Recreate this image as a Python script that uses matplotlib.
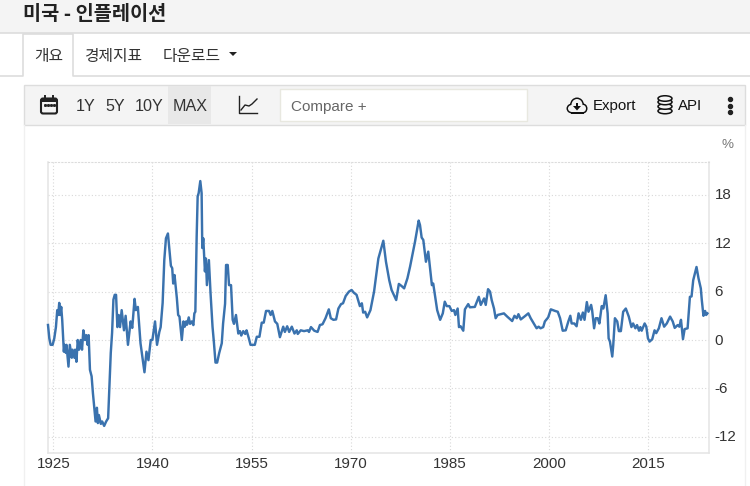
import matplotlib
matplotlib.use('Agg')
import matplotlib.pyplot as plt
from matplotlib.patches import Rectangle, Ellipse, Polygon, FancyBboxPatch
from matplotlib.transforms import ScaledTranslation

plt.rcParams['axes.unicode_minus'] = False

# inflation series: (year, percent)
years = [1924.2, 1924.4, 1924.6, 1924.9, 1925.15, 1925.4, 1925.6, 1925.75, 1925.9, 1926.05, 1926.2, 1926.35,
         1926.6, 1926.7, 1926.9, 1927.0, 1927.3, 1927.5, 1927.8, 1927.9, 1928.2, 1928.3, 1928.5, 1928.7, 1928.9,
         1929.15, 1929.35, 1929.55, 1929.8, 1930.0, 1930.2, 1930.35, 1930.55, 1930.8, 1931.0, 1931.2, 1931.4,
         1931.6, 1931.75, 1931.9, 1932.2, 1932.4, 1932.7, 1933.0, 1933.3, 1933.5, 1933.7, 1933.9, 1934.1, 1934.3,
         1934.5, 1934.7, 1934.9, 1935.1, 1935.35, 1935.7, 1935.95, 1936.3, 1936.7, 1936.95, 1937.3, 1937.5, 1937.8,
         1938.2, 1938.8, 1939.1, 1939.4, 1939.75, 1940.0, 1940.4, 1940.7, 1941.05, 1941.25, 1941.55, 1941.8,
         1942.05, 1942.35, 1942.55, 1942.8, 1943.0, 1943.15, 1943.35, 1943.7, 1943.9, 1944.1, 1944.45, 1944.7,
         1944.9, 1945.1, 1945.25, 1945.5, 1945.7, 1945.95, 1946.2, 1946.35, 1946.5, 1946.7, 1946.85, 1947.0,
         1947.25, 1947.45, 1947.55, 1947.7, 1947.95, 1948.1, 1948.25, 1948.55, 1948.8, 1949.1, 1949.3, 1949.55,
         1949.8, 1950.1, 1950.5, 1950.7, 1951.0, 1951.15, 1951.4, 1951.6, 1951.9, 1952.15, 1952.35, 1952.65,
         1953.0, 1953.25, 1953.45, 1953.75, 1954.05, 1954.25, 1954.6, 1954.85, 1955.5, 1955.8, 1956.2, 1956.55,
         1956.85, 1957.2, 1957.65, 1957.9, 1958.15, 1958.55, 1958.9, 1959.3, 1959.8, 1960.05, 1960.4, 1960.7,
         1961.1, 1961.5, 1961.85, 1962.0, 1962.45, 1962.95, 1963.5, 1963.7, 1964.0, 1964.5, 1965.0, 1965.35,
         1965.75, 1966.2, 1966.7, 1967.0, 1967.4, 1967.8, 1968.15, 1968.55, 1968.85, 1969.25, 1969.75, 1970.15,
         1970.5, 1970.9, 1971.4, 1971.7, 1971.9, 1972.2, 1972.5, 1973.0, 1973.55, 1974.2, 1974.55, 1974.95,
         1975.35, 1975.85, 1976.2, 1976.9, 1977.3, 1977.7, 1978.1, 1978.6, 1979.0, 1979.75, 1980.1, 1980.3,
         1980.5, 1980.75, 1981.0, 1981.4, 1981.75, 1982.3, 1982.5, 1983.1, 1983.55, 1983.95, 1984.25, 1984.55,
         1984.95, 1985.3, 1985.65, 1985.85, 1986.2, 1986.4, 1986.65, 1987.05, 1987.3, 1987.8, 1988.05, 1988.8,
         1989.4, 1989.7, 1990.2, 1990.45, 1990.8, 1991.1, 1991.35, 1991.7, 1991.95, 1992.25, 1992.7, 1993.2,
         1993.7, 1994.45, 1994.8, 1995.15, 1995.4, 1995.75, 1996.3, 1996.9, 1997.25, 1997.65, 1998.15, 1998.45,
         1998.75, 1999.15, 1999.4, 1999.9, 2000.3, 2000.95, 2001.35, 2001.7, 2002.1, 2002.55, 2002.95, 2003.25,
         2003.45, 2003.85, 2004.2, 2004.5, 2004.85, 2005.15, 2005.4, 2005.75, 2006.0, 2006.4, 2006.55, 2006.85,
         2007.1, 2007.4, 2007.65, 2008.0, 2008.25, 2008.6, 2008.9, 2009.05, 2009.25, 2009.6, 2009.75, 2010.0,
         2010.35, 2010.6, 2010.9, 2011.25, 2011.65, 2012.1, 2012.5, 2012.75, 2013.1, 2013.35, 2013.65, 2013.85,
         2014.05, 2014.5, 2014.75, 2015.0, 2015.25, 2015.65, 2016.0, 2016.25, 2016.65, 2017.05, 2017.45, 2017.85,
         2018.35, 2018.75, 2019.05, 2019.5, 2019.75, 2020.0, 2020.3, 2020.55, 2021.0, 2021.35, 2021.6, 2021.85,
         2022.35, 2022.65, 2023.0, 2023.15, 2023.4, 2023.65, 2023.8, 2024.0]
inflation = [1.86, 0.2, -0.6, -0.6, 0.2, 1.6, 3.7, 3.1, 4.6, 3.1, 4.1, 2.5,
             -1.45, -0.6, -1.6, -0.6, -3.3, -0.6, -2.2, -1.2, -2.2, -1.2, -2.7, 0.0, -1.2,
             0.0, -1.2, 1.2, 0.0, 0.6, -0.6, 0.6, -3.7, -4.5, -6.6, -8.3, -10.1,
             -8.4, -10.3, -9.3, -10.4, -10.1, -10.65, -10.1, -9.7, -5.8, -1.6, 0.9, 5.0, 5.6,
             5.6, 1.6, 3.1, 1.6, 3.7, 1.2, 3.0, -0.6, 2.3, 1.5, 5.1, 3.7, 4.1,
             -0.4, -4.0, -1.45, -2.5, 0.0, 0.0, 2.3, -0.6, 1.0, 1.6, 4.6, 9.9,
             12.6, 13.2, 11.4, 9.2, 8.9, 7.0, 8.05, 5.2, 3.1, 2.9, 0.0, 2.3,
             1.65, 2.3, 1.9, 2.8, 2.0, 2.3, 1.85, 3.3, 3.5, 12.8, 17.8, 18.2,
             19.7, 18.2, 11.4, 12.6, 8.5, 10.1, 6.8, 9.9, 5.8, 1.65, -0.2, -2.8,
             -2.8, -1.65, -0.4, 2.05, 4.5, 9.3, 9.3, 6.8, 6.8, 2.5, 2.0, 3.1,
             0.8, 1.1, 0.55, 1.1, 0.75, 1.2, 0.2, -0.6, -0.6, 0.4, 0.4, 2.15,
             2.15, 3.6, 3.6, 3.1, 3.6, 2.3, 2.0, 0.35, 1.65, 1.0, 1.7, 1.0,
             1.65, 0.8, 1.2, 0.75, 1.2, 1.1, 1.2, 1.0, 1.6, 1.15, 1.0, 1.85,
             1.95, 2.7, 3.8, 2.7, 2.5, 2.55, 3.9, 4.45, 4.55, 5.45, 6.0, 6.2,
             5.85, 5.6, 4.2, 4.55, 3.4, 3.5, 2.8, 3.7, 6.0, 10.1, 11.15, 12.3,
             9.7, 7.4, 6.2, 4.95, 6.95, 6.7, 6.4, 7.65, 9.1, 12.2, 13.85, 14.8,
             14.25, 12.7, 12.4, 9.7, 10.95, 6.8, 7.0, 3.7, 2.5, 3.3, 4.75, 4.2,
             4.2, 3.6, 3.7, 3.1, 3.9, 1.6, 1.7, 1.15, 3.8, 4.45, 4.05, 4.1,
             5.35, 4.35, 5.15, 4.35, 6.3, 6.0, 4.95, 3.9, 2.7, 3.1, 3.2, 3.3,
             2.9, 2.35, 3.0, 2.7, 3.2, 2.55, 2.9, 3.3, 2.7, 2.15, 1.45, 1.65,
             1.45, 1.6, 2.3, 2.8, 3.8, 3.6, 3.5, 2.7, 1.15, 1.2, 2.3, 3.0,
             2.05, 2.05, 1.7, 3.3, 2.5, 3.4, 2.5, 4.7, 3.5, 4.35, 3.7, 1.45,
             2.7, 2.7, 2.05, 4.2, 3.9, 5.55, 3.3, 0.2, -0.2, -2.05, -0.6, 2.7,
             2.3, 1.1, 1.1, 3.5, 3.9, 2.9, 1.6, 2.05, 1.45, 1.85, 1.15, 1.6,
             1.15, 2.05, 1.65, 0.2, -0.2, 0.1, 1.2, 0.85, 1.45, 2.7, 1.65, 2.05,
             2.9, 2.3, 1.5, 1.85, 1.65, 2.5, 0.1, 1.35, 1.45, 5.35, 5.4, 7.4,
             9.05, 7.65, 6.4, 4.95, 3.0, 3.6, 3.1, 3.3]

x_ticks = [1925, 1940, 1955, 1970, 1985, 2000, 2015]
y_ticks = [-12, -6, 0, 6, 12, 18]

KR = ['Noto Sans CJK KR', 'DejaVu Sans']
LAT = 'Liberation Sans'
BAR = '#f4f4f4'
W, H = 750, 486


def label(ov, x, y, s, size=10.4, color='#333333', family=LAT, ha='left', weight='normal'):
    ov.text(x, y, s, fontsize=size, color=color, family=family, ha=ha, va='center', weight=weight)


def draw_cloud(ov):
    parts = [(572, 108.5, 11, 10), (577, 105, 14, 15), (583, 108.5, 9, 10)]
    for x, y, w, h in parts:
        ov.add_patch(Ellipse((x, y), w, h, fc='#111111', ec='none'))
    ov.add_patch(Rectangle((571, 108), 13, 5.5, fc='#111111', ec='none'))
    for x, y, w, h in parts:
        ov.add_patch(Ellipse((x, y), w - 3, h - 3, fc=BAR, ec='none'))
    ov.add_patch(Rectangle((572, 108), 11, 4, fc=BAR, ec='none'))
    ov.add_patch(Rectangle((575.8, 102.5), 2.4, 4, fc='#111111', ec='none'))
    ov.add_patch(Polygon([[573, 106], [581, 106], [577, 110.5]], fc='#111111', ec='none'))


def draw_page(ov):
    # title band
    ov.add_patch(Rectangle((0, 0), W, 33, fc=BAR, ec='none'))
    ov.plot([0, W], [33.5, 33.5], color='#dddddd', lw=1.2)
    label(ov, 23, 14.5, '미국 - 인플레이션', size=14.2, color='#222222', family=KR, weight='bold')

    # tabs
    ov.plot([0, 23, 23, 73, 73, W], [76.5, 76.5, 34, 34, 76.5, 76.5], color='#dddddd', lw=1.2)
    ov.add_patch(Rectangle((23.6, 34), 48.8, 44, fc='white', ec='none'))
    label(ov, 34, 56, '개요', size=11.4, family=KR)
    label(ov, 84, 56, '경제지표', size=11.4, family=KR)
    label(ov, 163, 56, '다운로드', size=11.4, family=KR)
    ov.add_patch(Polygon([[229, 52], [237, 52], [233, 56]], fc='#222222', ec='none'))

    # toolbar
    ov.add_patch(Rectangle((24, 85), 721, 40, fc=BAR, ec='#dddddd', lw=1.0))
    ov.add_patch(Rectangle((168, 86), 43, 38, fc='#e8e8e8', ec='none'))
    label(ov, 76, 106.5, '1Y', size=11.6)
    label(ov, 105, 106.5, '5Y', size=11.6)
    label(ov, 135, 106.5, '10Y', size=11.6)
    label(ov, 173, 106.5, 'MAX', size=11.6)
    ov.add_patch(Rectangle((280, 89), 247, 32, fc='white', ec='#e8e8e0', lw=1.0))
    label(ov, 291, 106.5, 'Compare +', size=11, color='#666666')
    label(ov, 593, 105.5, 'Export', size=10.8, color='#111111')
    label(ov, 678, 105.5, 'API', size=10.8, color='#111111')
    label(ov, 722, 144.5, '%', size=9.6, color='#777777')

    # calendar icon
    ov.add_patch(FancyBboxPatch((41, 98.5), 16, 15, boxstyle='round,pad=0,rounding_size=2',
                                fc='none', ec='#222222', lw=1.5))
    ov.add_patch(Rectangle((41, 98.5), 16, 3.5, fc='#222222', ec='none'))
    ov.plot([45, 45], [96, 100], color='#222222', lw=1.4)
    ov.plot([53, 53], [96, 100], color='#222222', lw=1.4)
    ov.plot([45, 48, 51, 54], [105, 105, 105, 105], ls='none', marker='s', ms=1.1, color='#222222')

    # chart icon
    ov.plot([239, 239, 257], [96, 113.5, 113.5], color='#222222', lw=1.0)
    ov.plot([241, 245, 249, 252, 257], [110, 105, 106, 104, 99], color='#222222', lw=1.0)

    draw_cloud(ov)

    # database icon
    for y in (111, 106.5, 102, 98.5):
        ov.add_patch(Ellipse((665, y), 14, 5.5, fc=BAR, ec='#111111', lw=1.1))

    # menu dots
    ov.plot([730, 730, 730], [99.5, 106, 112.5], ls='none', marker='o', ms=2.9, color='#222222')

    # panel edges
    ov.plot([24, 24], [125, H], color='#f0f0f0', lw=1.0)
    ov.plot([745, 745], [125, H], color='#f0f0f0', lw=1.0)


fig = plt.figure(figsize=(7.5, 4.86), dpi=100, facecolor='white')

ax = fig.add_axes([48 / W, 1 - 452.7 / H, (709 - 48) / W, (452.7 - 162.5) / H])
ax.plot(years, inflation, color='#3a72ae', lw=1.75, solid_joinstyle='round', clip_on=False, zorder=3)
ax.set_xlim(1924.2, 2024.24)
ax.set_ylim(-13.97, 22)
ax.set_xticks(x_ticks)
ax.set_yticks(y_ticks)
ax.yaxis.tick_right()
ax.grid(True, ls=(0, (1, 2)), color='#d8d8d8', lw=0.8)
ax.set_axisbelow(True)
ax.tick_params(length=0, labelsize=10.9, labelcolor='#333333', pad=4)
ax.tick_params(axis='x', pad=3)
for t in ax.get_xticklabels() + ax.get_yticklabels():
    t.set_family(LAT)
# the value labels sit a little above their gridlines
lift = ScaledTranslation(0, 0.7 / 72, fig.dpi_scale_trans)
for t in ax.get_yticklabels():
    t.set_transform(t.get_transform() + lift)
ax.spines['top'].set_color('#dcdcdc')
ax.spines['top'].set_linestyle((0, (1, 2)))
for side in ('left', 'right', 'bottom'):
    ax.spines[side].set_color('#e4e4e4')
    ax.spines[side].set_linewidth(1.1)

# page furniture in pixel coordinates
ov = fig.add_axes([0, 0, 1, 1], zorder=5)
ov.set_xlim(0, W)
ov.set_ylim(H, 0)
ov.axis('off')
ov.patch.set_alpha(0)
draw_page(ov)

fig.savefig('out.png', dpi=100)
